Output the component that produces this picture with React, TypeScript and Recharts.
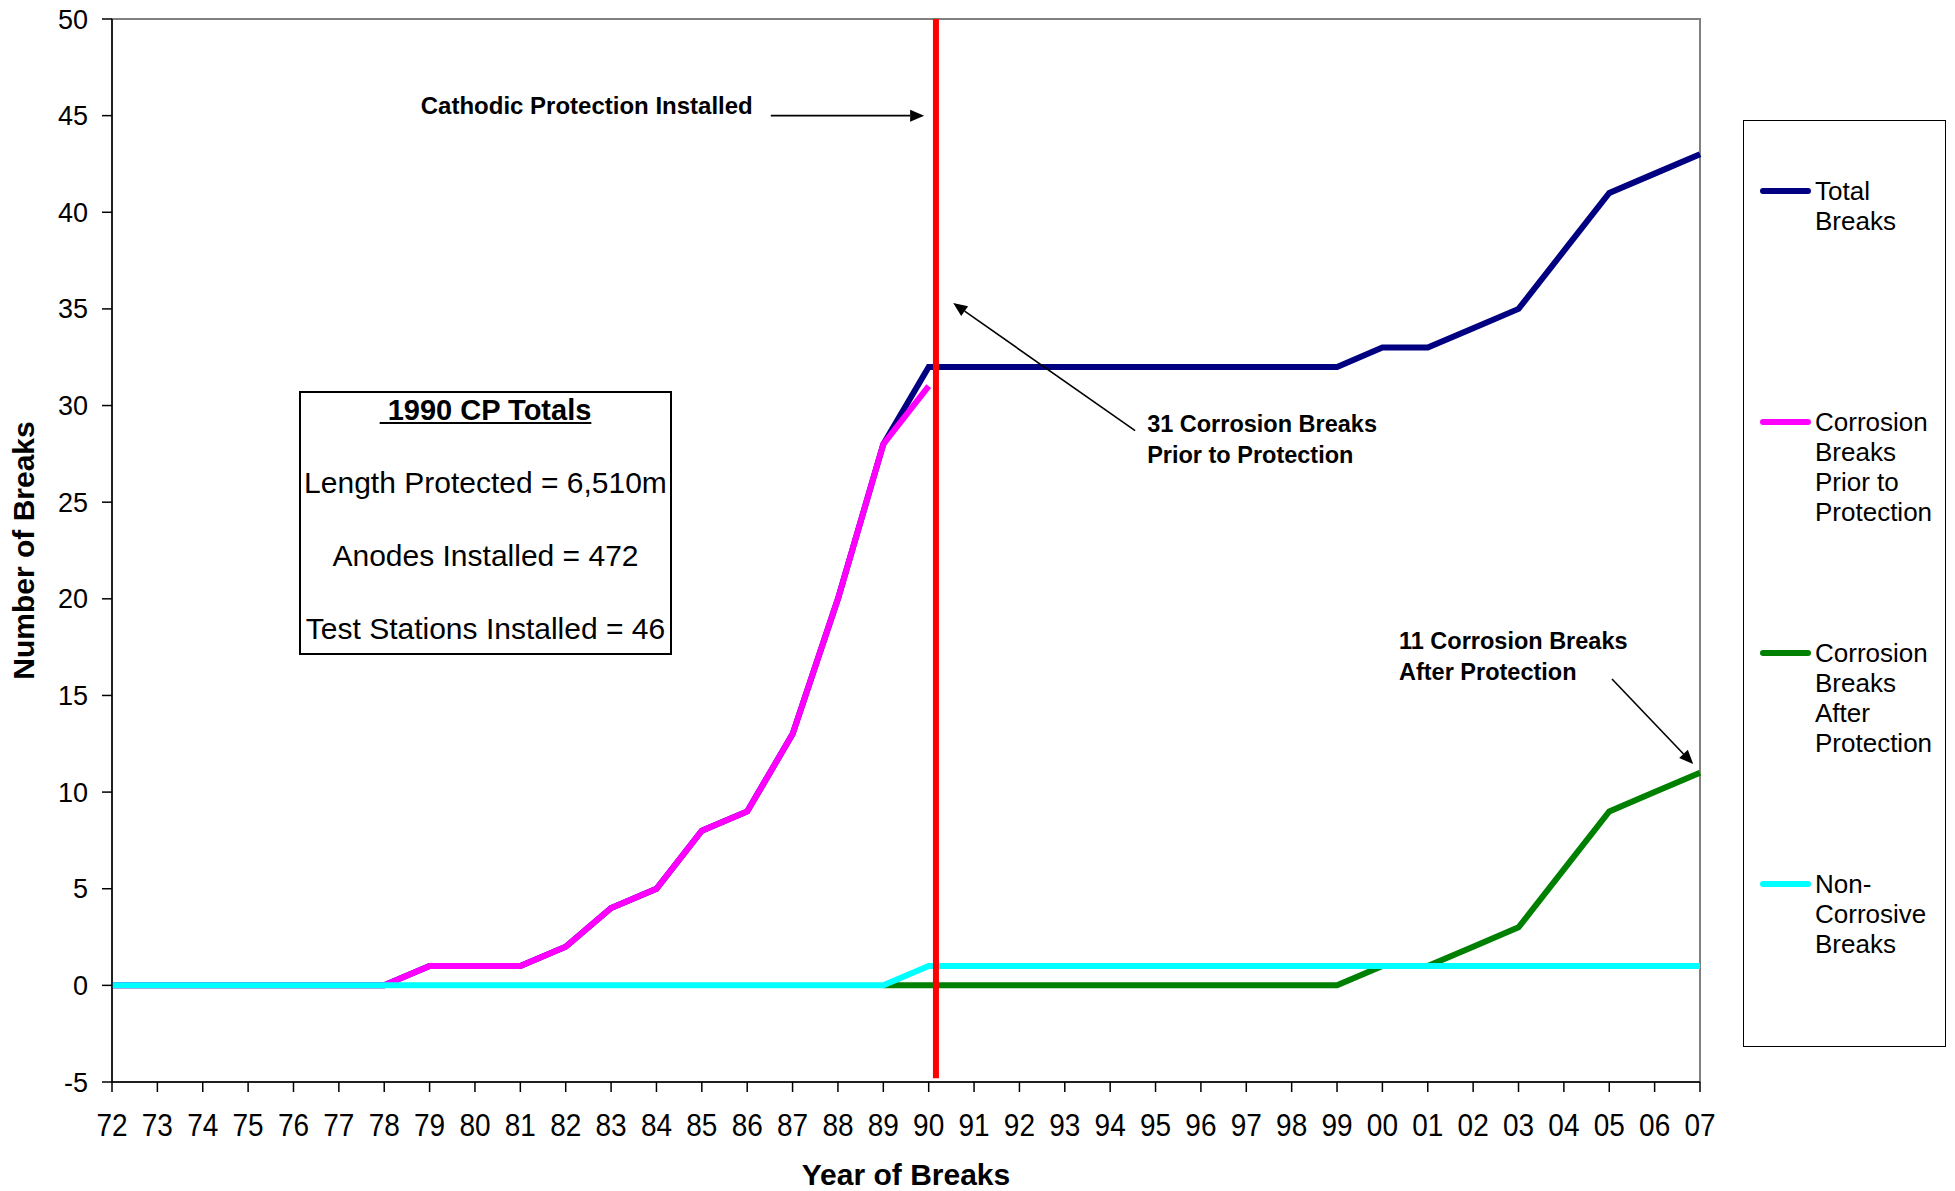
import React from 'react';
import { LineChart, Line, XAxis, YAxis, ReferenceLine, ReferenceArea, Legend, Label } from 'recharts';

// ---- data ----
const yearLabels = ['72','73','74','75','76','77','78','79','80','81','82','83','84','85','86','87','88','89','90','91','92','93','94','95','96','97','98','99','00','01','02','03','04','05','06','07'];
const totalBreaks = [0,0,0,0,0,0,0,1,1,1,2,4,5,8,9,13,20,28,32,32,32,32,32,32,32,32,32,32,33,33,34,35,38,41,42,43];
const priorBreaks = [0,0,0,0,0,0,0,1,1,1,2,4,5,8,9,13,20,28,31,null,null,null,null,null,null,null,null,null,null,null,null,null,null,null,null,null];
const afterBreaks = [null,null,null,null,null,null,null,null,null,null,null,null,null,null,null,null,null,0,0,0,0,0,0,0,0,0,0,0,1,1,2,3,6,9,10,11];
const nonCorrosiveBreaks = [0,0,0,0,0,0,0,0,0,0,0,0,0,0,0,0,0,0,1,1,1,1,1,1,1,1,1,1,1,1,1,1,1,1,1,1];
const yTicks = [-5,0,5,10,15,20,25,30,35,40,45,50];
const seriesNames = ['Total Breaks','Corrosion Breaks Prior to Protection','Corrosion Breaks After Protection','Non-Corrosive Breaks'];
const legendLines = [['Total','Breaks'],['Corrosion','Breaks','Prior to','Protection'],['Corrosion','Breaks','After','Protection'],['Non-','Corrosive','Breaks']];
const seriesKeys = ['total','prior','after','non'];
const seriesColors = ['#000080','#FF00FF','#008000','#00FFFF'];
const cpPosition = 18.16; // just after 1990 (index of '90' = 18)
const cpTitle = ' 1990 CP Totals';
const cpTotals = ['Length Protected = 6,510m','Anodes Installed = 472','Test Stations Installed = 46'];
const cathodicText = ['Cathodic Protection Installed'];
const priorText = ['31 Corrosion Breaks','Prior to Protection'];
const afterText = ['11 Corrosion Breaks','After Protection'];

const data = yearLabels.map((label, i) => ({
  i,
  label,
  total: totalBreaks[i],
  prior: priorBreaks[i],
  after: afterBreaks[i],
  non: nonCorrosiveBreaks[i],
}));
const xTicks = yearLabels.map((_, i) => i);

const FONT = '"Liberation Sans", Arial, Helvetica, sans-serif';

const arrowShape = (texts: string[], tx: number, ty: number, anchor: 'start' | 'end', fs: number) => (props: any) => {
  const x1 = Number(props.x1), y1 = Number(props.y1), x2 = Number(props.x2), y2 = Number(props.y2);
  const ang = Math.atan2(y2 - y1, x2 - x1);
  const L = 14, W = 6;
  const bx = x2 - L * Math.cos(ang), by = y2 - L * Math.sin(ang);
  const px = -Math.sin(ang) * W, py = Math.cos(ang) * W;
  return (
    <g>
      <line x1={x1} y1={y1} x2={bx} y2={by} stroke="#000" strokeWidth={1.6} />
      <polygon points={`${x2},${y2} ${bx + px},${by + py} ${bx - px},${by - py}`} fill="#000" />
      {texts.map((t, k) => (
        <text key={k} x={x1 + tx} y={y1 + ty + k * 31} textAnchor={anchor} dominantBaseline="central"
          fontWeight="bold" fontSize={fs} fill="#000" fontFamily={FONT}>{t}</text>
      ))}
    </g>
  );
};

const XTick = (props: any) => {
  const { x, y, payload } = props;
  return (
    <g transform={`translate(${x},${y}) scale(1,1.1)`}>
      <text x={0} y={0} dy="0.71em" textAnchor="middle" fontSize={28} fill="#000" fontFamily={FONT}>
        {yearLabels[payload.value]}
      </text>
    </g>
  );
};

const renderLegend = (props: any) => {
  const payload = props.payload || [];
  return (
    <div style={{ boxSizing: 'border-box', width: 203, height: 927, border: '1px solid #000', position: 'relative', background: '#fff', fontFamily: FONT }}>
      {payload.map((entry: any, k: number) => {
        let idx = seriesNames.indexOf(entry.value);
        if (idx < 0) idx = k;
        return (
          <div key={k} style={{ position: 'absolute', left: 16, top: 55 + idx * 231, display: 'flex', alignItems: 'flex-start' }}>
            <div style={{ width: 51, height: 6, borderRadius: 3, background: entry.color || seriesColors[idx], marginTop: 12 }} />
            <div style={{ marginLeft: 4, fontSize: 26, lineHeight: '30px', color: '#000', whiteSpace: 'nowrap' }}>
              {legendLines[idx].map((l, j) => <div key={j}>{l}</div>)}
            </div>
          </div>
        );
      })}
    </div>
  );
};

export default function App() {
  return (
    <div style={{ position: 'absolute', left: 0, top: 0, width: 1955, height: 1191, background: '#fff', fontFamily: FONT }}>
      <LineChart width={1955} height={1191} data={data} margin={{ top: 19, right: 255, left: 0, bottom: 0 }}>
        <ReferenceArea x1={0} x2={35} y1={-5} y2={50} fill="none" stroke="#808080" strokeWidth={2} />
        <XAxis dataKey="i" type="number" domain={[0, 35]} ticks={xTicks} interval={0}
          tickFormatter={(v: number) => yearLabels[v]} tickSize={10} tickMargin={22} height={109}
          stroke="#000" strokeWidth={1.5} tick={<XTick />}>
          <Label content={(p: any) => {
            const vb = p.viewBox || { x: 112, y: 1082, width: 1588, height: 109 };
            return <text x={vb.x + vb.width / 2} y={vb.y + 103} textAnchor="middle" fontWeight="bold" fontSize={30} fill="#000" fontFamily={FONT}>Year of Breaks</text>;
          }} />
        </XAxis>
        <YAxis type="number" domain={[-5, 50]} ticks={yTicks} interval={0} width={112} tickSize={10} tickMargin={14}
          stroke="#000" strokeWidth={1.5} tick={{ fill: '#000', fontSize: 27, fontFamily: FONT }}>
          <Label content={(p: any) => {
            const vb = p.viewBox || { x: 0, y: 19, width: 112, height: 1063 };
            const cx = vb.x + 23, cy = vb.y + vb.height / 2;
            return <text x={cx} y={cy} transform={`rotate(-90 ${cx} ${cy})`} textAnchor="middle" dominantBaseline="central" fontWeight="bold" fontSize={30} fill="#000" fontFamily={FONT}>Number of Breaks</text>;
          }} />
        </YAxis>
        {seriesKeys.map((k, idx) => (
          <Line key={k} type="linear" dataKey={k} name={seriesNames[idx]} stroke={seriesColors[idx]} strokeWidth={6}
            dot={false} activeDot={false} isAnimationActive={false} connectNulls={false} strokeLinejoin="miter" />
        ))}
        <ReferenceLine segment={[{ x: cpPosition, y: 50 }, { x: cpPosition, y: -4.8 }]} stroke="#FF0000" strokeWidth={6} />
        <ReferenceLine segment={[{ x: 14.52, y: 45 }, { x: 17.9, y: 45 }]} shape={arrowShape(cathodicText, -18, -10, 'end', 24)} />
        <ReferenceLine segment={[{ x: 22.55, y: 28.7 }, { x: 18.54, y: 35.3 }]} shape={arrowShape(priorText, 12, -7, 'start', 23.5)} />
        <ReferenceLine segment={[{ x: 33.06, y: 15.85 }, { x: 34.85, y: 11.45 }]} shape={arrowShape(afterText, -213, -38, 'start', 23.5)} />
        <Legend layout="vertical" align="center" verticalAlign="middle" content={renderLegend}
          wrapperStyle={{ left: 1743, top: 120, width: 203, height: 927 }} />
      </LineChart>
      <div style={{ position: 'absolute', left: 299, top: 391, width: 373, height: 264, boxSizing: 'border-box', border: '2px solid #000', background: '#fff', color: '#000' }}>
        <div style={{ position: 'absolute', left: 0, right: 0, top: 17 - 17, height: 34, lineHeight: '34px', textAlign: 'center', fontSize: 29, fontWeight: 'bold', textDecoration: 'underline', whiteSpace: 'pre' }}>{cpTitle}</div>
        {cpTotals.map((t, k) => (
          <div key={k} style={{ position: 'absolute', left: 0, right: 0, top: 90 + k * 73 - 17, height: 34, lineHeight: '34px', textAlign: 'center', fontSize: 30, whiteSpace: 'nowrap' }}>{t}</div>
        ))}
      </div>
    </div>
  );
}
